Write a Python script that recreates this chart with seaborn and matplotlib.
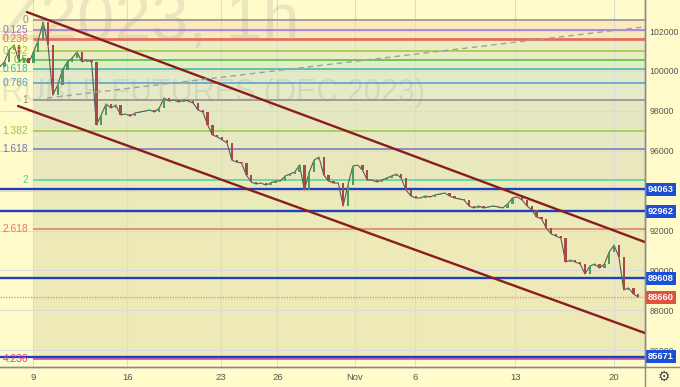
import matplotlib
matplotlib.use("Agg")
import matplotlib.pyplot as plt
from matplotlib.transforms import blended_transform_factory
import numpy as np
import pandas as pd
import seaborn as sns

# ------------------------------------------------------------------ data
# closing prices, 4 bars per trading day, starting 1.75 days before 9 Oct
closes = [
    100200, 100450, 101050, 101300, 100450, 100650, 100400, 100950, 101550, 102450,
    101300, 98790, 99290, 100050, 100450, 100650, 100950, 100450, 100550, 100450,
    97290, 97790, 98340, 98140, 98290, 97790, 97840, 97740, 97890, 97940,
    97990, 98040, 97940, 98140, 98640, 98490, 98540, 98440, 98540, 98490,
    98390, 98040, 97940, 97290, 96790, 96690, 96540, 96390, 95530, 95430,
    95380, 94780, 94430, 94330, 94380, 94280, 94380, 94480, 94480, 94730,
    94830, 94930, 95280, 94030, 94930, 95530, 95680, 94780, 94480, 94380,
    94380, 93230, 94280, 95230, 95280, 95030, 94530, 94530, 94430, 94530,
    94630, 94730, 94830, 94630, 94030, 93730, 93630, 93630, 93730, 93680,
    93780, 93830, 93880, 93730, 93630, 93580, 93530, 93230, 93130, 93230,
    93130, 93180, 93230, 93180, 93130, 93330, 93630, 93680, 93530, 93230,
    93030, 92680, 92580, 92130, 91830, 91720, 91620, 90420, 90520, 90420,
    90320, 89820, 90220, 90320, 90120, 90320, 90920, 91270, 90670, 89020,
    89120, 88820, 88660,
]
first_bar_day = -1.75
bars_per_day = 4

date_tick_pos = [0, 4.85, 9.7, 12.6, 16.6, 19.7, 24.9, 30.0]
date_tick_labels = ["9", "16", "23", "26", "Nov", "6", "13", "20"]
price_ticks = [86000, 88000, 90000, 92000, 94000, 96000, 98000, 100000, 102000]

fib_high = 102550
fib_low = 98540
fib_start_day = 0.0
fib_ratios = [0, 0.125, 0.236, 0.382, 0.5, 0.618, 0.786, 1, 1.382, 1.618, 2, 2.618, 4.236]
fib_labels = ["0", "0.125", "0.236", "0.382", "0.5", "0.618", "0.786", "1",
              "1.382", "1.618", "2", "2.618", "4.236"]

level_lines = [94063, 92962, 89608, 85671]
last_price = 88660

upper_channel_days = [-0.34, 31.6]
upper_channel_prices = [102950, 91420]
lower_channel_days = [-0.80, 31.6]
lower_channel_prices = [98240, 86860]
dashed_days = [0.70, 31.5]
dashed_prices = [98640, 102200]

watermark_symbol = "SiZ2023, 1h"
watermark_desc = "US DOLLAR-RUBLE FUTURES (DEC 2023)"

# ------------------------------------------------------------------ style
fib_colors = ["#8a8a8a", "#8e72e0", "#e0705e", "#9cc83a", "#45be45", "#38b8a0",
              "#4a9fd0", "#8a8a8a", "#9cc83a", "#7272c4", "#44d4a4", "#e07a68", "#d8408a"]
band_colors = ["#fbe7bd", "#fbe5bb", "#eaeac2", "#e5ebc2", "#e2eac4", "#e0e8c8",
               "#e2e7c8", "#e1e4c2", "#e2e6c0", "#e6e5ba", "#e8e7b6", "#ebe7b4"]
page_bg = "#fffbcb"

sns.set_theme(style="white")
plt.rcParams["font.family"] = ["Liberation Sans", "DejaVu Sans"]

W, H = 680, 387
fig = plt.figure(figsize=(W / 100, H / 100), dpi=100, facecolor=page_bg)
ax = fig.add_axes([0, 20 / H, 645 / W, 367 / H])
ax.set_facecolor(page_bg)

xmin, xmax = -1.731, 31.60
ymin, ymax = 85158, 103554
ax.set_xlim(xmin, xmax)
ax.set_ylim(ymin, ymax)

# grid
for p in date_tick_pos:
    ax.axvline(p, color="#d9dbe0", lw=0.8, zorder=1)
for p in price_ticks:
    ax.axhline(p, color="#d9dbe0", lw=0.8, zorder=1)

# fib fills, lines, labels
levels = [fib_high - r * (fib_high - fib_low) for r in fib_ratios]
for i in range(len(levels) - 1):
    ax.fill_between([fib_start_day, xmax], levels[i], levels[i + 1],
                    color=band_colors[i], lw=0, zorder=0.5, alpha=0.85)
for lvl, lab, col, r in zip(levels, fib_labels, fib_colors, fib_ratios):
    ax.hlines(lvl, fib_start_day, xmax, color=col, lw=2.0 if r == 0.236 else 1.1, zorder=2)
    ax.annotate(lab, xy=(fib_start_day, lvl), xytext=(-4, 0), textcoords="offset points",
                ha="right", va="center", color=col, fontsize=7.4, zorder=6)

# watermarks
ax.text(300 / 645, 1 - 40 / 367, watermark_symbol, transform=ax.transAxes, ha="right",
        va="baseline", fontsize=48, color="#8c8c80", alpha=0.18, zorder=1.5)
ax.text(425 / 645, 1 - 101 / 367, watermark_desc, transform=ax.transAxes, ha="right",
        va="baseline", fontsize=22, color="#8c8c80", alpha=0.18, zorder=1.5)

# horizontal level lines and last price
for v in level_lines:
    ax.axhline(v, color="#1f3fc0", lw=1.7, zorder=3)
ax.axhline(last_price, color="#e8957a", lw=1.0, ls=(0, (1, 1)), zorder=3)

# candles
df = pd.DataFrame({"close": closes})
df["day"] = first_bar_day + np.arange(len(df)) / bars_per_day
df["open"] = df["close"].shift(1).fillna(df["close"])
sns.lineplot(data=df, x="day", y="close", ax=ax, color="#5a5a5a", lw=0.8, zorder=4)
up = df["close"] >= df["open"]
lo = df[["open", "close"]].min(axis=1)
hgt = (df["close"] - df["open"]).abs()
ax.bar(df["day"][up], hgt[up], bottom=lo[up], width=0.12, color="#4f9a5c", zorder=5, lw=0)
ax.bar(df["day"][~up], hgt[~up], bottom=lo[~up], width=0.12, color="#a84848", zorder=5, lw=0)

# trend channel and dashed line
sns.lineplot(x=upper_channel_days, y=upper_channel_prices, ax=ax, color="#8b1c1c", lw=1.7, zorder=6)
sns.lineplot(x=lower_channel_days, y=lower_channel_prices, ax=ax, color="#8b1c1c", lw=1.7, zorder=6)
sns.lineplot(x=dashed_days, y=dashed_prices, ax=ax, color="#a0a0a0", lw=1.0, ls=(0, (4, 3)), zorder=6)

# axes
for s in ["top", "left"]:
    ax.spines[s].set_visible(False)
for s in ["right", "bottom"]:
    ax.spines[s].set_color("#8a8a8a")
    ax.spines[s].set_linewidth(1.0)
ax.yaxis.tick_right()
ax.set_yticks(price_ticks)
ax.set_yticklabels([str(p) for p in price_ticks], fontsize=6.3, color="#555555")
ax.set_xticks(date_tick_pos)
ax.set_xticklabels(date_tick_labels, fontsize=6.8, color="#555555")
ax.tick_params(axis="y", length=0, pad=3)
ax.tick_params(axis="x", length=0, pad=4)
ax.set_xlabel("")
ax.set_ylabel("")
ax.grid(False)

# price badges
tr = blended_transform_factory(ax.transAxes, ax.transData)
for v in level_lines:
    ax.text(1.004, v, str(v), transform=tr, ha="left", va="center", fontsize=6.7,
            color="white", fontweight="bold", zorder=10, clip_on=False,
            bbox=dict(boxstyle="square,pad=0.22", fc="#1d4fd6", ec="none"))
ax.text(1.004, last_price, str(last_price), transform=tr, ha="left", va="center", fontsize=6.7,
        color="white", fontweight="bold", zorder=10, clip_on=False,
        bbox=dict(boxstyle="square,pad=0.22", fc="#e0523e", ec="none"))

# frame lines extending into margins and settings glyph
fig.add_artist(plt.Line2D([0, 1], [20 / H, 20 / H], color="#8a8a8a", lw=1.0))
fig.add_artist(plt.Line2D([645 / W, 645 / W], [0, 1], color="#8a8a8a", lw=1.0))
fig.text(664 / W, 1 - 377 / H, "\u2699", ha="center", va="center", fontsize=10,
         color="#444444", family="DejaVu Sans")

fig.savefig("out.png", dpi=100, facecolor=page_bg)
